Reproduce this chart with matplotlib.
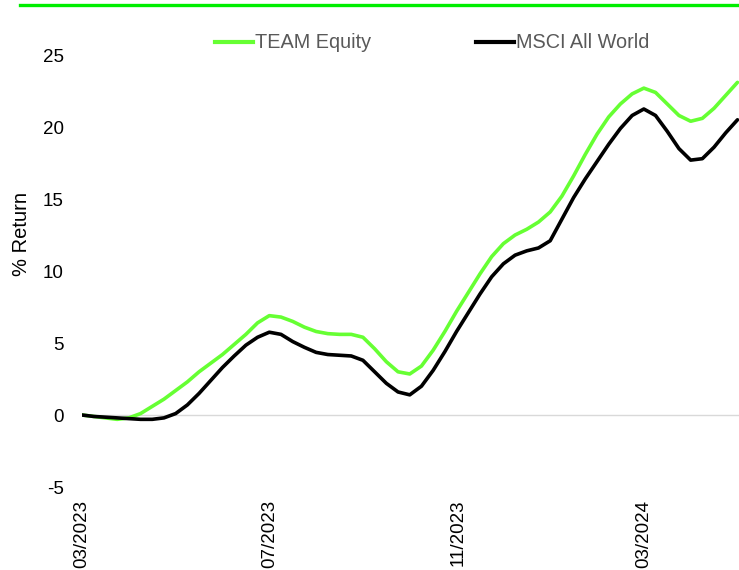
import pandas as pd
import matplotlib.pyplot as plt
import matplotlib.dates as mdates
from matplotlib.lines import Line2D

plt.rcParams['font.family'] = ['Liberation Sans', 'DejaVu Sans']
plt.rcParams['axes.unicode_minus'] = False

# roughly weekly points, 03/2023 .. 05/2024
dates = pd.date_range('2023-03-01', '2024-05-01', periods=57)

team_equity = [0.0, -0.1, -0.2, -0.3, -0.2, 0.1, 0.6, 1.1, 1.7, 2.3,
               3.0, 3.6, 4.2, 4.9, 5.6, 6.4, 6.9, 6.8, 6.5, 6.1,
               5.8, 5.65, 5.6, 5.6, 5.4, 4.6, 3.7, 3.0, 2.85, 3.4,
               4.5, 5.8, 7.2, 8.5, 9.8, 11.0, 11.9, 12.5, 12.9, 13.4,
               14.1, 15.2, 16.6, 18.1, 19.5, 20.7, 21.6, 22.3, 22.7, 22.4,
               21.6, 20.8, 20.4, 20.6, 21.3, 22.2, 23.1]
msci_world = [0.0, -0.1, -0.15, -0.2, -0.25, -0.3, -0.3, -0.2, 0.1, 0.7,
              1.5, 2.4, 3.3, 4.1, 4.85, 5.4, 5.75, 5.6, 5.1, 4.7,
              4.35, 4.2, 4.15, 4.1, 3.8, 3.0, 2.2, 1.6, 1.4, 2.0,
              3.1, 4.4, 5.8, 7.1, 8.4, 9.6, 10.5, 11.1, 11.4, 11.6,
              12.1, 13.6, 15.1, 16.4, 17.6, 18.8, 19.9, 20.8, 21.25, 20.8,
              19.7, 18.5, 17.7, 17.8, 18.6, 19.6, 20.5]

series_names = ["TEAM Equity", "MSCI All World"]
series_colors = ["#66FF33", "#000000"]
tick_dates = ['2023-03-01', '2023-07-01', '2023-11-01', '2024-03-01']
y_ticks = [-5, 0, 5, 10, 15, 20, 25]

fig = plt.figure(figsize=(7.39, 5.70), dpi=100)
ax = fig.add_axes([0.111, 0.1456, 0.889, 0.7579])

ax.axhline(0, color='#d9d9d9', lw=1, zorder=1)
for vals, name, col in zip([team_equity, msci_world], series_names, series_colors):
    ax.plot(dates, vals, color=col, lw=2.6, label=name,
            solid_joinstyle='round', solid_capstyle='round', zorder=3)

ax.set_ylim(-5, 25)
ax.set_yticks(y_ticks)
ax.set_xlim(dates[0], dates[-1] + pd.Timedelta(days=1))
ax.set_xticks(pd.to_datetime(tick_dates))
ax.xaxis.set_major_formatter(mdates.DateFormatter('%m/%Y'))
ax.tick_params(axis='x', rotation=90, length=0, pad=9, labelsize=13.5)
ax.tick_params(axis='y', length=0, pad=13, labelsize=13.5)
for s in ax.spines.values():
    s.set_visible(False)
ax.set_ylabel('% Return', fontsize=14.5)
ax.yaxis.set_label_coords(-0.078, 0.585)

handles = [Line2D([], [], color=c, lw=3) for c in series_colors]
fig.legend(handles, series_names, loc='center left',
           bbox_to_anchor=(215 / 739, 1 - 43 / 570), ncol=2, frameon=False,
           handlelength=1.9, handletextpad=0.1, columnspacing=5.3,
           borderpad=0, borderaxespad=0, fontsize=14.3, labelcolor='#595959')

# green rule across the top
fig.add_artist(Line2D([20 / 739, 1], [1 - 4.5 / 570] * 2, color='#00EE00', lw=2.4,
                      transform=fig.transFigure))

fig.savefig('out.png', dpi=100)
